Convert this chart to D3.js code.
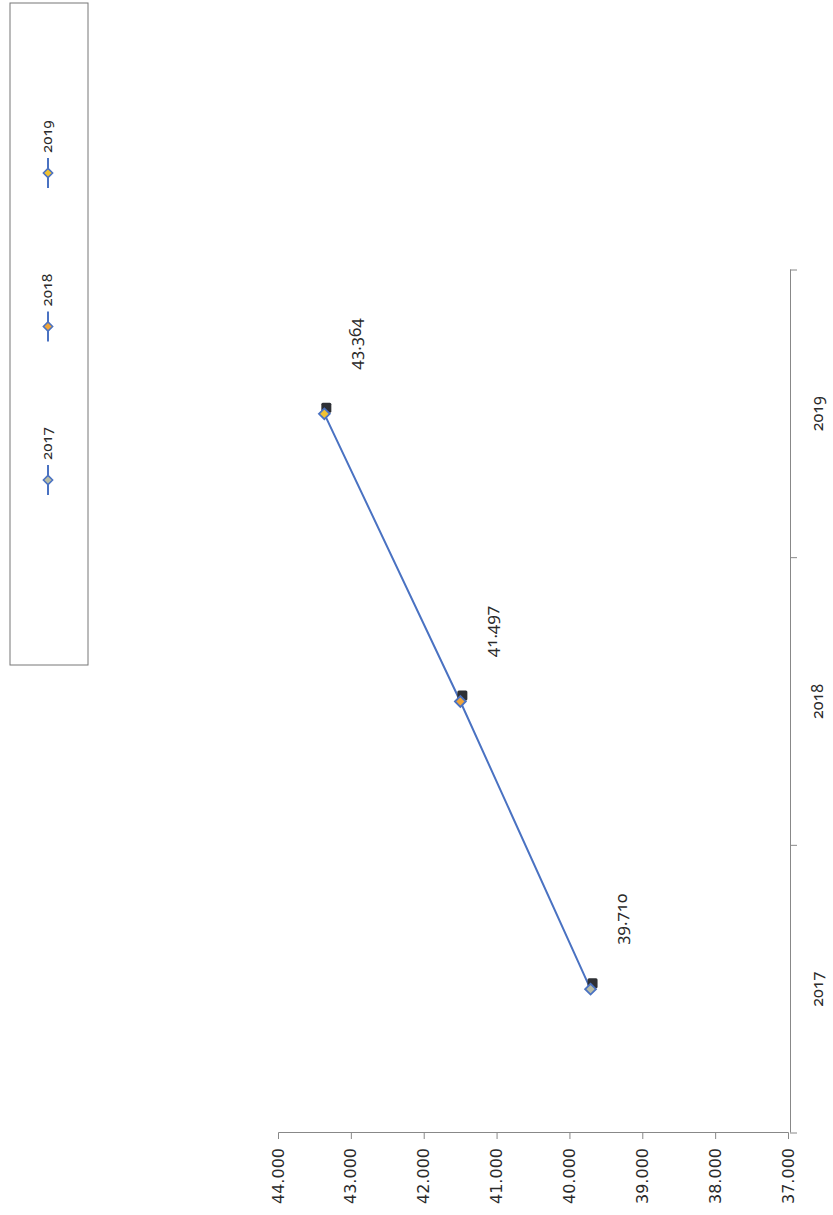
<!DOCTYPE html>
<html>
<head>
<meta charset="utf-8">
<script src="https://cdn.jsdelivr.net/npm/d3@7"></script>
<style>
  body { margin: 0; background: #fff; }
  text { font-family: "Noto Sans", "Open Sans", sans-serif; font-variant-numeric: oldstyle-nums; fill: #2a2a2a; }
  .vaxis text { font-family: "DejaVu Sans", sans-serif; font-variant-numeric: normal; }
</style>
</head>
<body>
<div id="canvas"></div>
<script>
var years = ["2017", "2018", "2019"]
var values = [39.710, 41.497, 43.364]
var valueTicks = [37, 38, 39, 40, 41, 42, 43, 44]
var markerFills = ["#b9bda6", "#f0a53a", "#f0c232"]

var pageWidth = 833
var pageHeight = 1215

// the chart is drawn upright then turned a quarter turn counter-clockwise
var width = pageHeight
var height = pageWidth

var svg = d3.select("#canvas")
    .append("svg")
    .attr("width", pageWidth)
    .attr("height", pageHeight)

var chart = svg.append("g")
    .attr("transform", `translate(0,${pageHeight}) rotate(-90)`)

var xScale = d3.scaleBand().domain(years).range([82, 945])
var yScale = d3.scaleLinear().domain([37, 44]).range([788, 278])

// value axis
var yAxis = chart.append("g")
    .attr("class", "vaxis")
    .attr("transform", "translate(82,0)")
    .call(d3.axisLeft(yScale)
        .tickValues(valueTicks)
        .tickSize(6)
        .tickPadding(9)
        .tickFormat(d3.format(".3f")))
yAxis.select(".domain").attr("stroke", "#888")
yAxis.selectAll(".tick line").attr("stroke", "#888")
yAxis.selectAll("text").style("font-size", "16px").attr("fill", "#333")

// category axis
var xAxis = chart.append("g")
    .attr("transform", "translate(0,790)")
    .call(d3.axisBottom(xScale).tickSize(0).tickPadding(22))
xAxis.select(".domain").attr("stroke", "#888")
xAxis.selectAll("text").style("font-size", "16px").attr("fill", "#333")

var bounds = years.map(function (d) { return xScale(d) })
bounds.push(xScale(years[years.length - 1]) + xScale.bandwidth())
xAxis.selectAll(".bound")
    .data(bounds)
    .enter()
    .append("line")
    .attr("class", "bound")
    .attr("x1", function (d) { return d })
    .attr("x2", function (d) { return d })
    .attr("y1", 0)
    .attr("y2", 7)
    .attr("stroke", "#888")

var points = years.map(function (d, i) {
    return { year: d, value: values[i], fill: markerFills[i] }
})

var line = d3.line()
    .x(function (d) { return xScale(d.year) + xScale.bandwidth() / 2 })
    .y(function (d) { return yScale(d.value) })

chart.append("path")
    .datum(points)
    .attr("d", line)
    .attr("fill", "none")
    .attr("stroke", "#4a72c2")
    .attr("stroke-width", 2)

var marks = chart.selectAll(".mark")
    .data(points)
    .enter()
    .append("g")
    .attr("class", "mark")
    .attr("transform", function (d) {
        return `translate(${xScale(d.year) + xScale.bandwidth() / 2},${yScale(d.value)})`
    })

// dark shadow block behind each marker
marks.append("rect")
    .attr("x", 1)
    .attr("y", -3)
    .attr("width", 10)
    .attr("height", 10)
    .attr("rx", 1.5)
    .attr("fill", "#2e3035")

marks.append("path")
    .attr("d", d3.symbol().type(d3.symbolDiamond2).size(75))
    .attr("fill", function (d) { return d.fill })
    .attr("stroke", "#4a72c2")
    .attr("stroke-width", 1.8)

chart.selectAll(".value-label")
    .data(points)
    .enter()
    .append("text")
    .attr("class", "value-label")
    .attr("x", function (d) { return xScale(d.year) + xScale.bandwidth() / 2 + 70 })
    .attr("y", function (d) { return yScale(d.value) + 32 })
    .attr("text-anchor", "middle")
    .attr("dominant-baseline", "middle")
    .style("font-size", "17px")
    .text(function (d) { return d.value.toFixed(3) })

// legend
var legend = chart.append("g")
legend.append("rect")
    .attr("x", 550)
    .attr("y", 10)
    .attr("width", 662)
    .attr("height", 78)
    .attr("fill", "none")
    .attr("stroke", "#777")
    .attr("stroke-width", 1)

var legendX = d3.scalePoint().domain(years).range([735, 1042])

var items = legend.selectAll(".legend-item")
    .data(points)
    .enter()
    .append("g")
    .attr("class", "legend-item")
    .attr("transform", function (d) { return `translate(${legendX(d.year)},48)` })

items.append("line")
    .attr("x1", -15)
    .attr("x2", 15)
    .attr("stroke", "#4a72c2")
    .attr("stroke-width", 2)

items.append("path")
    .attr("d", d3.symbol().type(d3.symbolDiamond2).size(55))
    .attr("fill", function (d) { return d.fill })
    .attr("stroke", "#4a72c2")
    .attr("stroke-width", 1.5)

items.append("text")
    .attr("x", 20)
    .attr("dominant-baseline", "middle")
    .style("font-size", "15px")
    .text(function (d) { return d.year })
</script>
</body>
</html>
